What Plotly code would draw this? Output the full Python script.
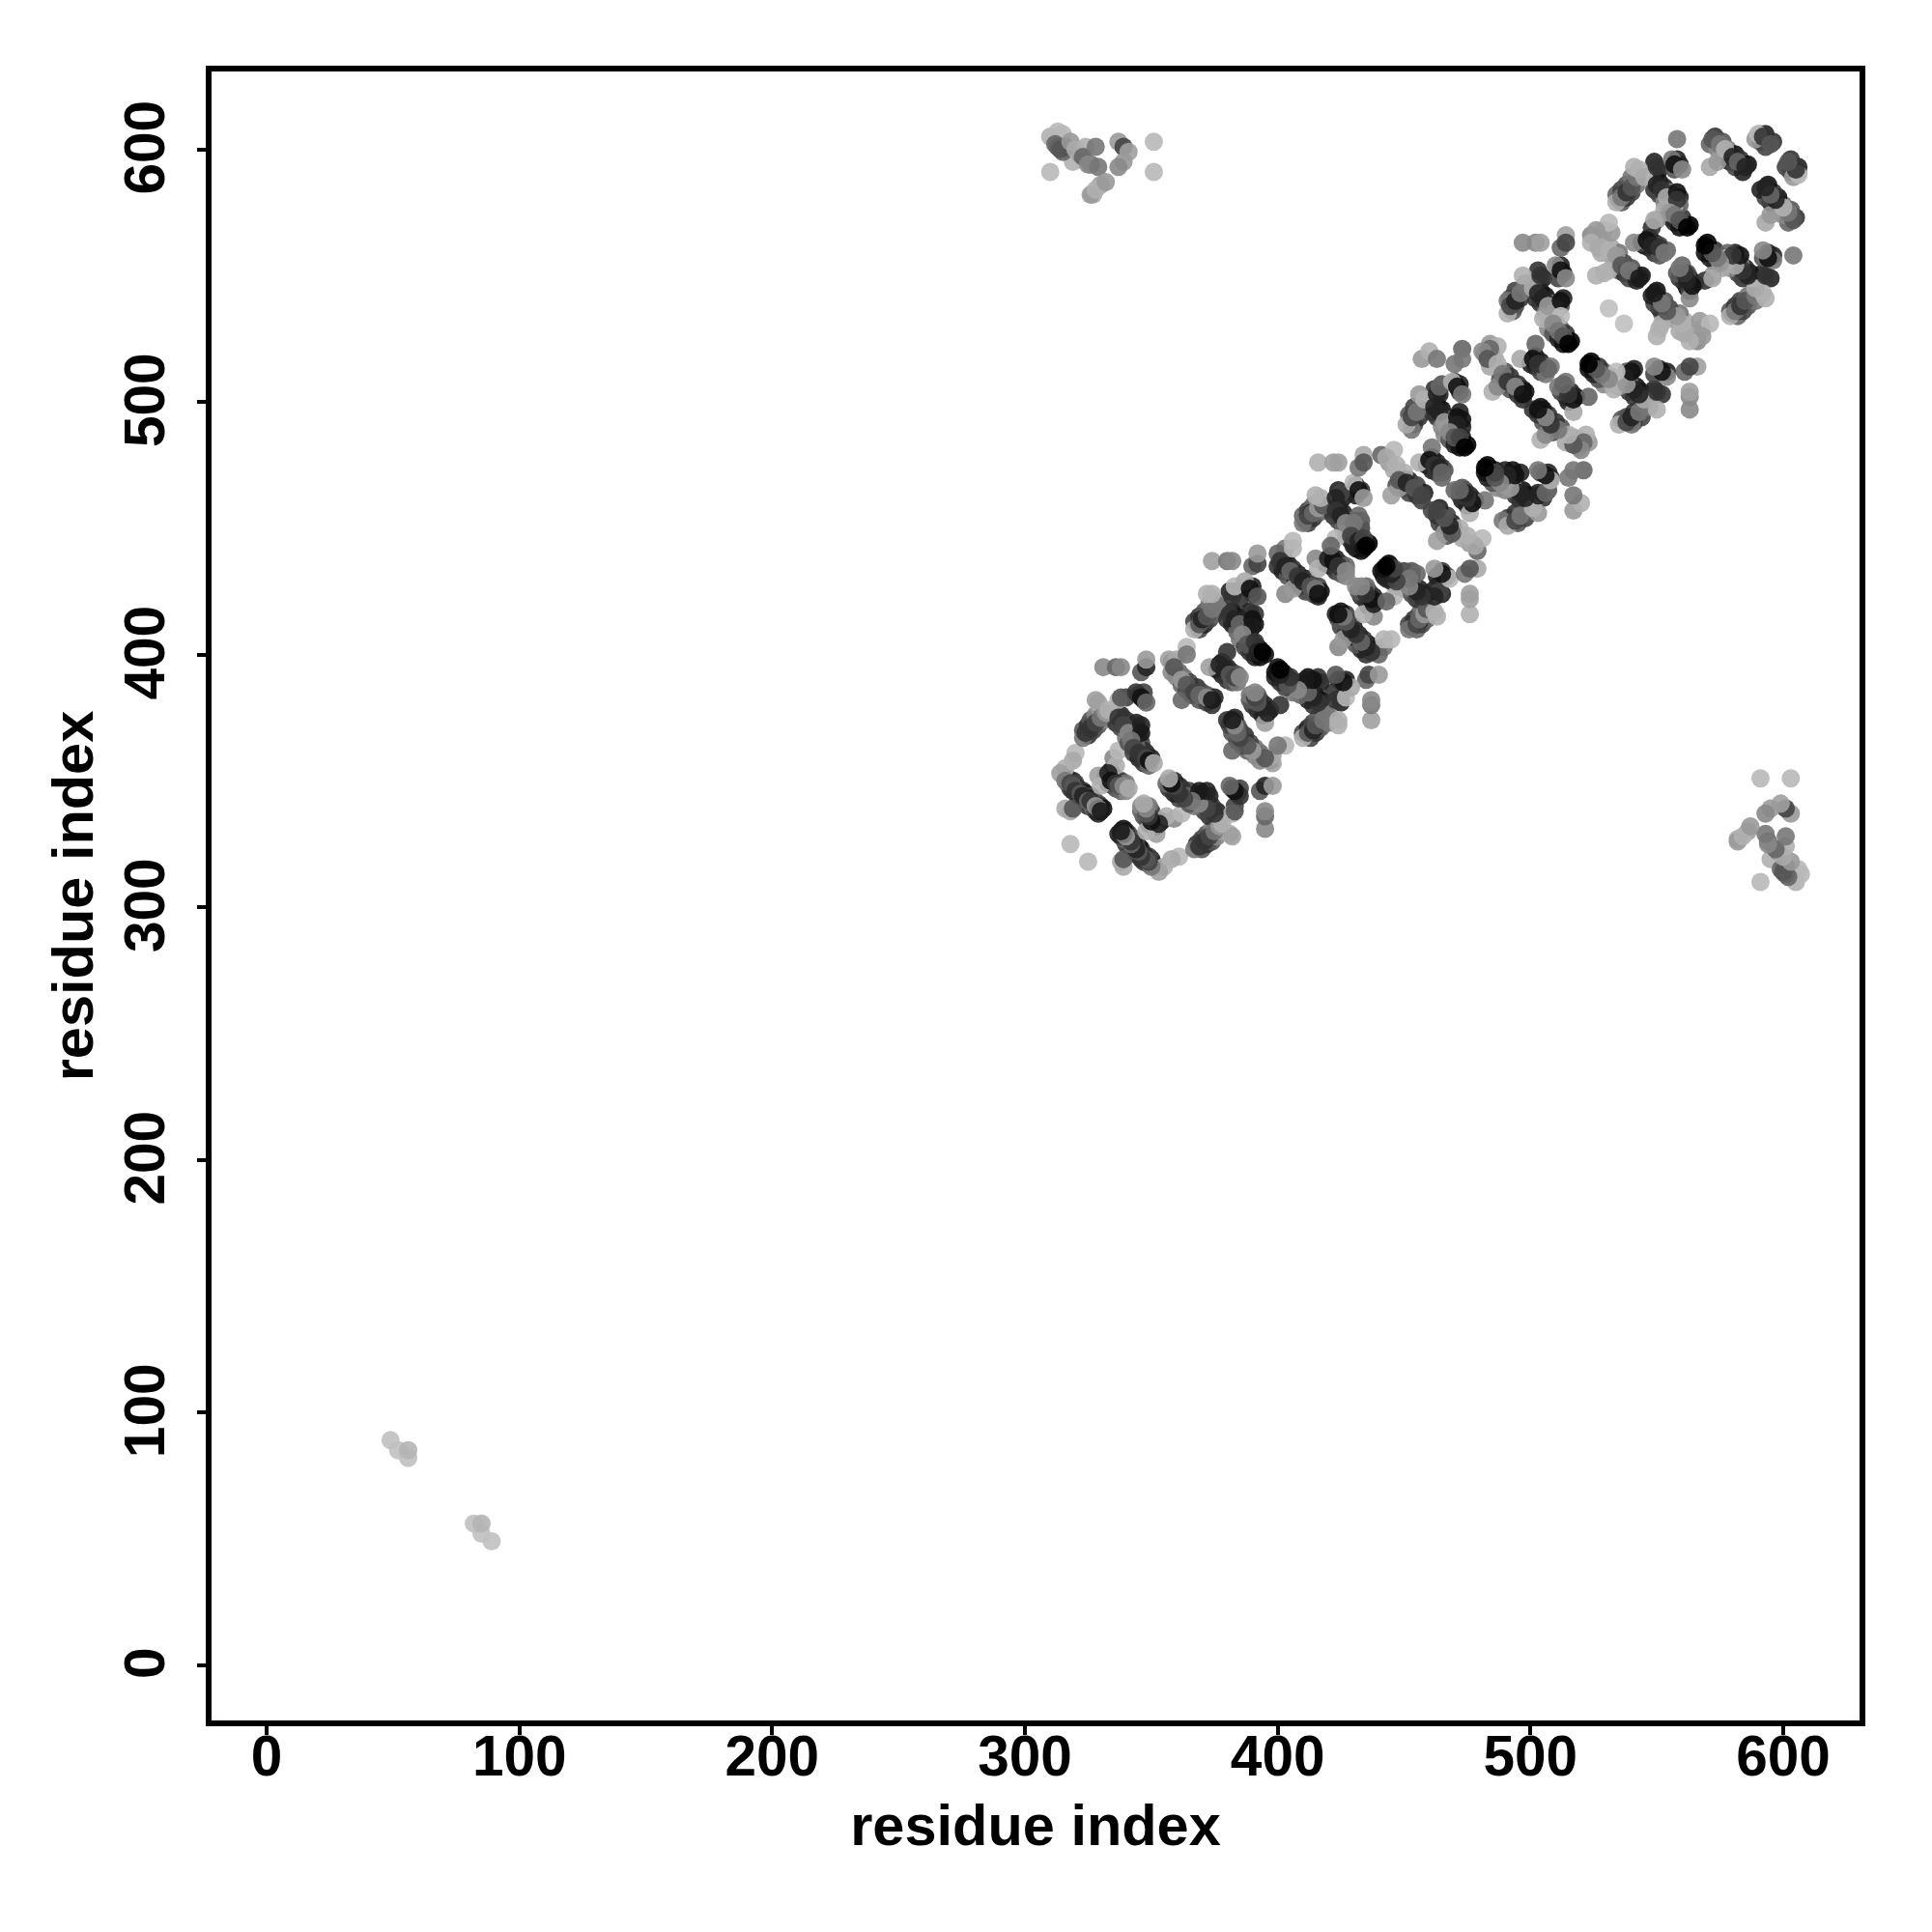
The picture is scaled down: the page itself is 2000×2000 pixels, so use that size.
import plotly.graph_objects as go

# Contacts read from the upper half of the symmetric map: (residue i, residue j, gray level)
far_contacts = [(49,89,0xc0),(52,85,0xc0),(56,82,0xc0),(56,85,0xb4)]

corner_contacts = [
 (310,591,0xb8),(351,603,0xb8),(351,591,0xb8),(319,595,0xb0),(310,605,0xb0),(313,607,0xb8),(315,606,0xb8),
 (313,601,0x44),(315,599,0x66),(316,601,0x55),(322,598,0x88),(326,594,0x66),(330,586,0xa0),(327,582,0xb0),
 (312,602,0x66),(314,600,0x55),(318,603,0x99),(320,600,0xaa),(324,601,0xb0),(323,597,0x66),(328,601,0x77),
 (325,594,0x88),(329,593,0x77),(326,582,0x99),(328,584,0xb0),(332,587,0x99),(337,603,0x99),(339,601,0x44),
 (341,599,0xa0),(339,595,0x99),(337,593,0x88)]

under_a = [
 (317,351,0x33),(319,350,0x22),(320,349,0x44),(321,347,0x22),(323,346,0x33),(324,345,0x11),(326,344,0x44),
 (327,343,0x22),(329,341,0x55),(330,340,0x33),(331,339,0x11),(317,349,0x55),(318,347,0x44),(319,346,0x33),
 (321,344,0x33),(322,343,0x22),(324,342,0x44),(325,340,0x33),(327,339,0x66),(328,338,0x44),(329,337,0x22),
 (334,354,0x22),(335,352,0x11),(337,350,0x33),(338,350,0x44),(340,349,0x77),(332,352,0x33),(333,349,0x22),
 (335,348,0x44),(336,347,0x55),(338,346,0x66),(340,346,0x88)]

unit_a = [
 (318,325,0xb8),(320,361,0xb8),(319,358,0xa8),(316,355,0xb0),(314,353,0xa0),(316,339,0xaa),(318,338,0xa8),(319,339,0x55),
 (316,350,0x77),(318,349,0x44),(319,348,0x55),(320,346,0x33),(322,345,0x55),(323,344,0x22),(325,342,0x66),
 (326,342,0x33),(328,340,0x99),(329,339,0x77),(330,338,0x1a),
 (329,352,0xa0),(330,348,0xb0),(335,359,0x88),(336,356,0xb0),(337,362,0xb8),
 (333,353,0x22),(334,350,0x11),(336,349,0x33),(337,348,0x55),(339,348,0x88),(341,347,0xaa)]

under_b = [
 (325,368,0x33),(326,370,0x22),(327,370,0x44),(329,372,0x55),(331,374,0x88),(323,370,0x55),(325,372,0x33),
 (326,374,0x55),(328,376,0x88),(330,378,0xa0),(340,383,0x44),(345,384,0x22),(347,382,0x22),(347,385,0x44),
 (338,376,0x22),(340,374,0x33),(342,372,0x66),(344,370,0x55),(344,367,0x77),(346,365,0x44),(347,362,0x33),
 (348,361,0x33),(350,359,0x22),(336,373,0x33),(338,371,0x44),(340,367,0x77),(341,365,0x55),(343,361,0x44),
 (345,359,0x22),(347,357,0x33),(349,356,0x66),(344,373,0x22),(345,370,0x11),(344,364,0x66)]

unit_b = [
 (329,381,0xa8),(328,382,0xa0),(323,367,0x77),(324,369,0x33),(326,371,0x33),(328,373,0x44),(330,375,0x77),
 (332,377,0x99),(333,378,0xb0),(337,382,0xb0),(338,383,0x55),(344,385,0x33),(346,383,0x11),(348,381,0x66),
 (331,395,0x88),(336,395,0x66),(338,395,0x88),(346,393,0x55),(348,395,0x22),(348,398,0x99),
 (337,375,0x33),(339,372,0x44),(341,369,0x88),(346,372,0x22),(346,369,0x1a),(342,366,0x77),(343,363,0x44),
 (345,361,0x33),(348,359,0x44),(349,358,0x11),(351,357,0xaa)]

under_c = [
 (358,397,0x55),(361,393,0x66),(363,391,0x77),(365,389,0x44),(368,387,0x33),(370,385,0x44),(372,384,0x55),(375,383,0x22),
 (358,393,0x88),(360,391,0x88),(362,388,0x66),(364,386,0x44),(366,384,0x33),(369,382,0x55),(372,381,0x44),(374,380,0x33),
 (378,397,0x11),(380,395,0x22),(382,393,0x33),(384,392,0x55),(376,394,0x22),(378,392,0x22),(380,390,0x33),(382,389,0x55),(384,389,0x77),
 (369,410,0x44),(371,412,0x22),(373,414,0x44),(375,416,0x66),(377,419,0x77),(367,413,0x44),(369,415,0x33),(371,417,0x55),(373,420,0x77),(374,422,0x88),
 (383,425,0x22),(390,427,0x22),(390,424,0x33),(385,422,0x33),(381,425,0x22),
 (382,417,0x22),(384,415,0x11),(386,413,0x44),(388,411,0x66),(389,407,0x66),(390,405,0x33),(392,403,0x22),(393,402,0x11),(395,400,0x11),
 (380,414,0x33),(382,412,0x22),(384,409,0x66),(385,406,0x77),(387,403,0x44),(389,401,0x33),(391,399,0x22),(393,399,0x11),
 (389,417,0x22),(391,412,0x11),(391,416,0x33)]

unit_c = [
 (357,398,0xa0),(364,403,0xb8),(360,398,0xa8),(364,400,0x77),(359,395,0x55),(362,382,0x66),(362,390,0x99),
 (364,388,0x55),(367,385,0x44),(369,384,0x66),(372,383,0x88),(374,382,0x1a),
 (373,395,0xa0),(380,401,0x33),(377,396,0x22),(379,394,0x22),(381,392,0x55),(383,391,0x44),(385,391,0x88),
 (374,437,0xa0),(380,437,0x77),(382,437,0x88),(390,435,0x66),(392,436,0x44),(392,440,0x99),
 (367,410,0xb0),(369,412,0x55),(370,414,0x22),(372,415,0x55),(374,418,0x77),(376,420,0x77),(372,424,0xb0),(374,424,0xb0),
 (382,423,0x33),(383,427,0xb8),(387,429,0xa8),(389,426,0x11),(392,423,0x55),
 (381,416,0x33),(383,414,0x22),(385,412,0x66),(390,414,0x11),(390,411,0x1a),(386,408,0x88),(388,404,0x55),
 (391,405,0x33),(392,401,0x22),(394,401,0x00)]

under_d = [
 (402,438,0x22),(404,436,0x11),(406,434,0x33),(408,432,0x22),(411,430,0x22),(413,428,0x44),(416,427,0x44),(417,425,0x11),
 (400,435,0x33),(402,433,0x22),(404,431,0x55),(407,429,0x22),(409,427,0x22),(411,425,0x44),(414,424,0x55),(416,423,0x22),
 (421,439,0x11),(423,438,0x22),(425,436,0x33),(427,435,0x66),(419,436,0x11),(421,435,0x22),(423,433,0x33),(425,432,0x55),(427,431,0x88),
 (412,452,0x44),(414,454,0x33),(416,456,0x55),(418,457,0x77),(410,455,0x66),(412,457,0x44),(414,459,0x66),(416,460,0x88),(411,453,0x33),(413,456,0x22),
 (425,461,0x11),(427,463,0x33),(424,465,0x22),(431,463,0x22),(433,465,0x33),(431,467,0x44),
 (424,458,0x22),(426,456,0x22),(428,453,0x66),(431,453,0x44),(431,450,0x55),(431,447,0x33),(433,445,0x11),(436,444,0x00),
 (422,455,0x33),(424,453,0x44),(426,450,0x66),(427,447,0x55),(429,445,0x33),(431,442,0x22),(433,441,0x11),(428,450,0x77),(430,443,0x22),(433,450,0x44),(433,453,0x55)]

unit_d = [
 (403,424,0x88),(406,426,0x99),(403,442,0x77),(400,440,0x66),(406,445,0xb8),(406,442,0xb5),
 (401,437,0x33),(403,435,0x22),(405,433,0x66),(408,431,0x33),(410,429,0x22),(413,427,0x55),(415,426,0x77),(416,424,0x11),
 (415,438,0x88),(416,434,0xb0),(420,438,0x22),(422,437,0x11),(424,435,0x33),(427,433,0x88),
 (410,452,0x77),(412,455,0x44),(414,456,0x66),(416,458,0x99),(418,459,0x55),(415,463,0xb0),(417,462,0xb0),
 (425,464,0x44),(423,462,0x22),(430,468,0xb8),(432,465,0x11),(434,462,0x99),
 (423,446,0xb8),(421,443,0x66),(423,457,0x33),(425,455,0x22),(427,452,0x88),(432,455,0x66),(430,452,0x77),
 (429,447,0x44),(432,445,0x22),(434,446,0x44),(434,442,0x11),(435,443,0x00),
 (416,476,0xb0),(422,476,0xa0),(424,476,0xa0),(434,479,0xa8),(432,474,0x77),(434,476,0x55)]

under_e = [
 (449,470,0x33),(452,469,0x22),(455,467,0x44),(458,464,0x22),(447,467,0x55),(450,466,0x33),(452,464,0x44),(455,463,0x33),(457,461,0x44),(444,476,0x99),(446,473,0xaa),
 (461,478,0x11),(463,476,0x22),(465,474,0x33),(466,473,0x55),(459,475,0x22),(461,473,0x22),(463,472,0x33),(465,470,0x66),
 (454,491,0x44),(456,494,0x33),(458,497,0x66),(452,495,0x55),(454,498,0x44),(453,489,0x77),
 (462,505,0x33),(464,503,0x22),(472,504,0x33),(470,508,0x33),(472,507,0x22),(465,507,0x55),
 (463,499,0x22),(465,497,0x11),(467,493,0x77),(469,490,0x66),(471,488,0x44),(473,486,0x22),(475,483,0x00),
 (461,496,0x33),(463,494,0x33),(465,490,0x88),(466,487,0x88),(468,485,0x55),(470,483,0x22),(472,482,0x11),(473,490,0x22),(472,496,0x22),(473,493,0x11),(467,490,0x99)]

unit_e = [
 (441,479,0x66),(446,481,0xb8),(443,478,0xaa),(447,475,0xb0),(450,472,0xb0),(445,463,0xa0),(448,466,0x99),
 (448,469,0x55),(451,468,0x22),(454,466,0x55),(457,463,0x44),
 (461,482,0x77),(456,476,0xb0),(460,477,0x11),(462,475,0x33),(464,474,0x22),(465,472,0x66),
 (457,517,0x99),(460,520,0xb0),(463,517,0x77),(473,521,0x66),(470,515,0x77),(473,517,0x77),
 (451,491,0xa8),(453,494,0x44),(455,496,0x77),(456,503,0x99),(458,501,0xb0),
 (463,503,0x22),(464,506,0x66),(469,508,0xb0),(471,506,0x11),(473,503,0x77),
 (462,498,0x22),(464,496,0x22),(466,492,0x99),(471,494,0x11),(471,491,0x22),(468,488,0x88),(470,486,0x55),
 (472,486,0x44),(474,482,0x00)]

under_f = [
 (490,512,0x55),(492,510,0x33),(495,507,0x33),(497,505,0x22),(498,504,0x11),(488,509,0x55),(490,507,0x33),(492,505,0x55),(495,503,0x33),(497,501,0x33),
 (482,519,0x88),(484,523,0x99),(485,519,0xa0),(486,517,0xa8),(484,514,0xa8),
 (502,518,0x11),(504,516,0x22),(506,514,0x44),(508,514,0x77),(500,515,0x22),(502,514,0x22),(504,512,0x44),(506,511,0x77),
 (494,538,0x44),(496,541,0x33),(498,544,0x66),(492,541,0x55),(494,544,0x44),(491,540,0x77),(493,536,0x55),
 (503,552,0x33),(505,549,0x22),(512,554,0x22),(513,551,0x22),(511,549,0x44),
 (504,544,0x22),(506,542,0x11),(508,539,0x77),(510,532,0x66),(512,529,0x66),(514,527,0x33),(516,524,0x00),
 (502,541,0x33),(504,539,0x33),(506,535,0x88),(507,529,0x88),(509,527,0x55),(511,525,0x22),(513,523,0x11),(513,541,0x22),(512,538,0x55),(510,537,0x99),(507,533,0xaa)]

unit_f = [
 (487,522,0xb0),(484,521,0x66),(481,520,0x88),(483,517,0x55),(487,515,0xb0),(485,504,0xb0),(487,506,0x88),
 (489,511,0x77),(491,508,0x33),(494,506,0x88),(497,503,0x11),
 (502,523,0x66),(496,517,0xa8),(501,517,0x11),(503,515,0x33),(507,513,0x66),
 (497,563,0x88),(502,563,0x88),(504,563,0xa0),(514,566,0xa0),(512,561,0x66),(514,563,0x44),
 (491,535,0xb0),(492,538,0x44),(494,540,0x22),(496,543,0x77),(498,547,0x77),(497,550,0xb0),(501,545,0xaa),
 (504,550,0x33),(510,554,0x88),(512,552,0x11),(514,549,0x88),
 (505,533,0xb0),(503,543,0x22),(505,541,0x22),(507,538,0x99),(512,540,0x11),(512,534,0xbb),(509,531,0x88),
 (511,528,0x77),(513,526,0x55),(515,523,0x00)]

under_g = [
 (532,561,0xaa),(535,559,0x77),(537,555,0x44),(540,553,0x55),(544,550,0x11),(533,556,0x99),(535,552,0x66),(537,551,0x33),(539,549,0x44),(542,548,0x22),
 (528,559,0xaa),(529,563,0xb0),(527,565,0xaa),(529,568,0xa0),(532,567,0x99),
 (547,565,0x11),(549,563,0x22),(551,562,0x44),(554,560,0x66),(545,562,0x11),(547,561,0x22),(549,559,0x33),(551,558,0x55),(544,563,0x44),
 (536,579,0x55),(538,581,0x33),(540,583,0x44),(542,586,0x77),(534,582,0x66),(536,584,0x44),(538,586,0x55),(540,589,0x77),(535,580,0x33),
 (549,595,0x22),(551,592,0x22),(558,596,0x22),(559,594,0x22),(557,592,0x55),
 (551,587,0x11),(553,585,0x22),(555,583,0x77),(556,578,0x88),(558,575,0x55),(560,573,0x33),(563,570,0x00),
 (549,584,0x33),(551,582,0x44),(553,579,0x88),(553,576,0xaa),(555,573,0x66),(557,571,0x22),(559,569,0x11),(559,581,0x22),(559,578,0x66),(557,578,0xbb),
 (573,605,0x33),(576,603,0x55),(578,600,0x77),(581,598,0x11),(583,596,0x33),(586,594,0x11),(571,602,0x66),(574,600,0x88),(576,597,0x99),(579,595,0x22),(581,593,0x44),(584,591,0x22),
 (591,606,0xaa),(593,606,0x22),(596,603,0x33),(591,603,0x55),(593,601,0x44),(589,604,0x99)]

unit_g = [
 (531,537,0xc0),(531,571,0xb8),(524,566,0x88),(526,568,0x99),(524,563,0xb0),(527,561,0xaa),
 (526,550,0xb0),(529,551,0xb0),(531,552,0xb0),(531,560,0xb0),(534,558,0x99),(536,554,0x55),(539,552,0x77),(543,549,0x1a),
 (550,572,0x99),(548,569,0x33),(541,563,0x88),(546,564,0x11),(548,562,0x22),(551,561,0x33),(553,559,0x77),
 (534,579,0xb0),(536,581,0x77),(538,583,0x33),(540,585,0x55),(542,589,0x77),(541,593,0xb0),(543,592,0xb0),(545,589,0xaa),
 (550,593,0x33),(556,596,0x77),(557,594,0x11),(560,592,0x88),
 (549,572,0xaa),(550,586,0x22),(552,584,0x33),(554,581,0xaa),(558,583,0x11),(558,580,0x33),(555,575,0x99),
 (557,574,0x77),(559,572,0x55),(562,569,0x00),
 (558,604,0x77),(571,593,0xa8),(574,595,0x99),(572,604,0x55),(575,602,0x77),(577,600,0xb0),(580,597,0x22),
 (582,595,0x66),(585,593,0x22),(590,606,0xb8),(592,605,0x33),(595,602,0x55)]

contact_groups = [far_contacts, corner_contacts, under_a, unit_a, under_b, unit_b, under_c, unit_c,
                  under_d, unit_d, under_e, unit_e, under_f, unit_f, under_g, unit_g]

xs, ys, colors = [], [], []
for group in contact_groups:
    for i, j, g in group:
        xs += [i, j]
        ys += [j, i]
        colors += [f"rgb({g},{g},{g})"] * 2

tick_vals = [0, 100, 200, 300, 400, 500, 600]
axis_title = "residue index"
FONT = "Liberation Sans"

fig = go.Figure(go.Scatter(
    x=xs, y=ys, mode="markers",
    marker=dict(size=19, color=colors, opacity=0.9, line=dict(width=0)),
    hoverinfo="skip"))

axis_common = dict(
    tickvals=tick_vals, ticks="outside", ticklen=9, tickwidth=3.5, tickcolor="black",
    showline=True, linewidth=5.5, linecolor="black", mirror=True,
    showgrid=False, zeroline=False,
    tickfont=dict(family=FONT, size=58.5, color="black", weight="bold"),
)
title_font = dict(family=FONT, size=59.5, color="black", weight="bold")
fig.update_layout(
    width=2000, height=2000, paper_bgcolor="white", plot_bgcolor="white",
    margin=dict(l=211, r=83, t=66, b=227, autoexpand=False), showlegend=False,
    xaxis=dict(range=[-21.8, 630.2], ticklabelstandoff=-28,
               title=dict(text=axis_title, standoff=21, font=title_font), **axis_common),
    yaxis=dict(range=[-21.95, 630.8], tickangle=-90, ticklabelstandoff=11, ticklabelshift=7,
               title=dict(text=axis_title, standoff=3, font=title_font), **axis_common),
)
fig.write_html("out.html")
